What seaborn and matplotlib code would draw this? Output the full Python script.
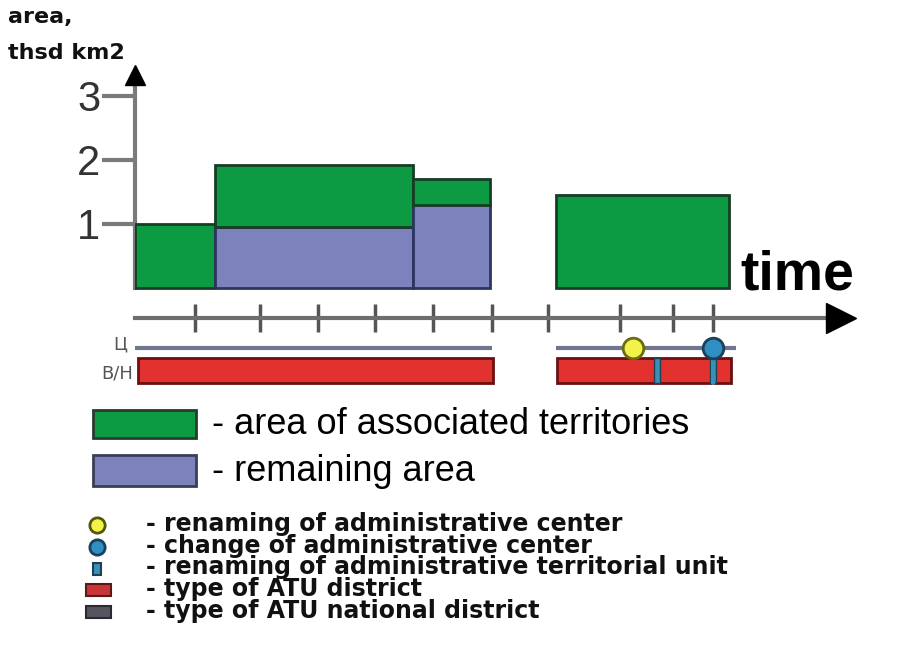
import matplotlib
matplotlib.use('Agg')
import matplotlib.pyplot as plt
from matplotlib.patches import Rectangle
from matplotlib.lines import Line2D
import seaborn as sns

sns.set_style('white')

# bars: start / end of each period (arbitrary time units), areas in thsd km2
period_start = [0.0, 1.38, 4.79, 7.26]
period_end = [1.38, 4.79, 6.12, 10.24]
remaining_area = [0.0, 0.95, 1.30, 0.0]
associated_area = [1.0, 0.97, 0.40, 1.45]

time_ticks = [1.03, 2.16, 3.16, 4.14, 5.14, 6.16, 7.12, 8.36, 9.28, 9.97]
y_ticks = [1, 2, 3]

center_start = [0.0, 7.26]
center_end = [6.16, 10.36]
district_start = [0.05, 7.28]
district_end = [6.17, 10.28]
rename_center = [8.59]
change_center = [9.97]
rename_atu = [9.0, 9.97]

GREEN = '#0c9a42'
BLUE = '#7c82bb'
RED = '#e2322f'
YELLOW = '#f2f24a'
TEAL = '#2f8fc2'
W, H = 897, 664

# layout levels below the bars
AXIS_Y = -0.47
CENTER_Y = -0.94
DISTRICT_Y = -1.285
DISTRICT_H = 0.39

fig = plt.figure(figsize=(W / 100, H / 100), dpi=100)
ax = fig.add_axes([135 / W, 1 - 395 / H, 725 / W, 335 / H])
ax.set_xlim(0, 12.5)
ax.set_ylim(-1.672, 3.5625)

# stacked area bars
widths = [e - s for s, e in zip(period_start, period_end)]
for s, w, r, a in zip(period_start, widths, remaining_area, associated_area):
    if r > 0:
        ax.bar(s, r, width=w, align='edge', color=BLUE, edgecolor='#2c3560', linewidth=2, zorder=3)
    ax.bar(s, a, width=w, bottom=r, align='edge', color=GREEN, edgecolor='#173d26', linewidth=2, zorder=3)

# y axis with arrow
for side in ['top', 'right']:
    ax.spines[side].set_visible(False)
ax.spines['left'].set_bounds(0, 3.35)
ax.spines['left'].set_color('#7a7a7a')
ax.spines['left'].set_linewidth(3)
ax.plot(0, 3.33, marker='^', ms=15, color='black', clip_on=False, zorder=5)
ax.set_yticks(y_ticks)
ax.tick_params(axis='y', direction='out', length=24, width=3, color='#7a7a7a',
               labelsize=30, labelcolor='#333333', pad=1, left=True)
for lab in ax.get_yticklabels():
    lab.set_family('Liberation Sans')

# time axis with arrow
ax.spines['bottom'].set_position(('data', AXIS_Y))
ax.spines['bottom'].set_bounds(0, 12.1)
ax.spines['bottom'].set_color('#6e6e6e')
ax.spines['bottom'].set_linewidth(3)
ax.plot(12.17, AXIS_Y, marker='>', ms=21, color='black', clip_on=False, zorder=5)
ax.set_xticks(time_ticks)
ax.set_xticklabels([])
ax.tick_params(axis='x', direction='inout', length=20, width=2.5, color='#555555', bottom=True)
ax.text(10.43, -0.03, 'time', fontsize=40, fontweight='bold', family='Liberation Sans',
        va='baseline', ha='left', color='black')

# administrative center line and district bars
for s, e in zip(center_start, center_end):
    ax.plot([s, e], [CENTER_Y, CENTER_Y], color='#6f7790', lw=3, zorder=2, solid_capstyle='butt')
ax.barh(DISTRICT_Y, [e - s for s, e in zip(district_start, district_end)], left=district_start,
        height=DISTRICT_H, color=RED, edgecolor='#6a1010', linewidth=2, zorder=3)
for x in rename_atu:
    ax.bar(x - 0.05, DISTRICT_H, width=0.1, bottom=DISTRICT_Y - DISTRICT_H / 2, align='edge',
           color='#3a8fb5', edgecolor='#1f3f55', linewidth=1, zorder=4)
for x in change_center:
    ax.plot([x, x], [CENTER_Y, DISTRICT_Y - DISTRICT_H / 2], color='#3a8fb5', lw=3, zorder=4)
sns.scatterplot(x=rename_center, y=[CENTER_Y] * len(rename_center), s=220, color=YELLOW,
                edgecolor='#6b6b10', linewidth=2, zorder=6, ax=ax, clip_on=False)
sns.scatterplot(x=change_center, y=[CENTER_Y] * len(change_center), s=220, color=TEAL,
                edgecolor='#1c3f5a', linewidth=2, zorder=6, ax=ax, clip_on=False)
ax.text(-0.14, -0.89, 'Ц', fontsize=13, color='#555555', ha='right', va='center')
ax.text(-0.03, -1.33, 'В/Н', fontsize=13, color='#555555', ha='right', va='center')


def fx(x):
    return x / W


def fy(y):
    return 1 - y / H


# axis title
title_font = dict(fontsize=16, fontweight='bold', family='DejaVu Sans', va='center', color='#111111')
fig.text(fx(8), fy(17), 'area,', **title_font)
fig.text(fx(8), fy(53), 'thsd km2', **title_font)

# legend for the area bars
big_items = [(GREEN, '#2a3a2e', '- area of associated territories', 410, 438),
             (BLUE, '#3a3f55', '- remaining area', 455, 486)]
for col, edge, text, y0, y1 in big_items:
    fig.add_artist(Rectangle((fx(93), fy(y1)), fx(103), (y1 - y0) / H, facecolor=col,
                             edgecolor=edge, linewidth=2, transform=fig.transFigure))
    fig.text(fx(212), fy((y0 + y1) / 2 + 1), text, fontsize=26, family='Liberation Sans',
             va='center', color='black')

# legend for the event marks
fig.add_artist(Line2D([fx(97)], [fy(525)], marker='o', ms=11, markerfacecolor=YELLOW,
                      markeredgecolor='#55550e', markeredgewidth=2, transform=fig.transFigure))
fig.add_artist(Line2D([fx(97)], [fy(547)], marker='o', ms=11, markerfacecolor=TEAL,
                      markeredgecolor='#1c3f5a', markeredgewidth=2, transform=fig.transFigure))
fig.add_artist(Rectangle((fx(93), fy(575)), 8 / W, 12 / H, facecolor='#3a8fb5', edgecolor='#1f3f55',
                         linewidth=1.5, transform=fig.transFigure))
fig.add_artist(Rectangle((fx(86), fy(596)), 25 / W, 12 / H, facecolor='#c8363a', edgecolor='#5a1a1a',
                         linewidth=1.5, transform=fig.transFigure))
fig.add_artist(Rectangle((fx(86), fy(618)), 25 / W, 12 / H, facecolor='#555560', edgecolor='#2a2a30',
                         linewidth=1.5, transform=fig.transFigure))
small_font = dict(fontsize=17, fontweight='bold', family='DejaVu Sans', va='center', color='#111111')
small_texts = ['- renaming of administrative center', '- change of administrative center',
               '- renaming of administrative territorial unit', '- type of ATU district',
               '- type of ATU national district']
for i, t in enumerate(small_texts):
    fig.text(fx(146), fy(524 + 21.7 * i), t, **small_font)

fig.savefig('out.png', dpi=100)
